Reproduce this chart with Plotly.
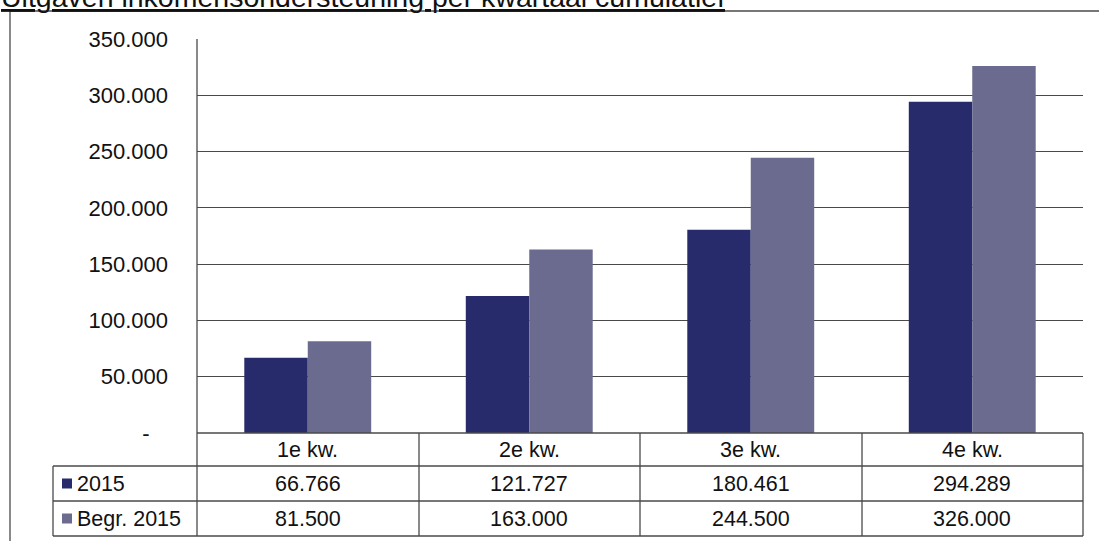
import plotly.graph_objects as go

categories = ["1e kw.", "2e kw.", "3e kw.", "4e kw."]
series_names = ["2015", "Begr. 2015"]
values_2015 = [66766, 121727, 180461, 294289]
values_begr = [81500, 163000, 244500, 326000]
tick_values = [0, 50000, 100000, 150000, 200000, 250000, 300000, 350000]
tick_labels = ["-\u00a0\u00a0\u00a0", "50.000", "100.000", "150.000", "200.000", "250.000", "300.000", "350.000"]
title_text = "Uitgaven inkomensondersteuning per kwartaal cumulatief"

COL_DARK = "#272b6b"
COL_GREY = "#6b6b8f"
LINE = "#4a4a4a"
FONT = "Arial, Liberation Sans, sans-serif"

W, H = 1099, 541
L, R, T, B = 197, 1083, 39, 433


def px(x):
    return (x - L) / (R - L)


def py(y):
    return (B - y) / (B - T)


def fmt(v):
    return f"{v:,}".replace(",", ".")


fig = go.Figure()
fig.add_trace(go.Bar(x=categories, y=values_2015, name=series_names[0],
                     marker=dict(color=COL_DARK, line=dict(width=0))))
fig.add_trace(go.Bar(x=categories, y=values_begr, name=series_names[1],
                     marker=dict(color=COL_GREY, line=dict(width=0))))

shapes = []


def line(x0, y0, x1, y1, w=1.3):
    shapes.append(dict(type="line", xref="paper", yref="paper",
                       x0=px(x0), y0=py(y0), x1=px(x1), y1=py(y1),
                       line=dict(color=LINE, width=w)))


# outer frame
line(10, 11, 1099, 11)
line(10, 11, 10, 541)
# plot left border
line(197, 39, 197, 433)
# table
row_y = [433, 466, 501, 536]
line(197, 433, 1083, 433)
for yy in row_y[1:]:
    line(53, yy, 1083, yy)
col_x = [197, 419, 640, 862, 1083]
for xx in col_x:
    line(xx, 433, xx, 536)
line(53, 466, 53, 536)

annotations = []
row_centers = [(row_y[i] + row_y[i + 1]) / 2 for i in range(3)]
for i, c in enumerate(categories):
    annotations.append(dict(x=c, y=py(row_centers[0]), xref="x", yref="paper",
                            text=c, showarrow=False, xanchor="center", yanchor="middle",
                            font=dict(size=21.5, color="#111", family=FONT)))
    annotations.append(dict(x=c, y=py(row_centers[1]), xref="x", yref="paper",
                            text=fmt(values_2015[i]), showarrow=False, xanchor="center", yanchor="middle",
                            font=dict(size=21.5, color="#111", family=FONT)))
    annotations.append(dict(x=c, y=py(row_centers[2]), xref="x", yref="paper",
                            text=fmt(values_begr[i]), showarrow=False, xanchor="center", yanchor="middle",
                            font=dict(size=21.5, color="#111", family=FONT)))

for name, col, rc in [(series_names[0], COL_DARK, row_centers[1]), (series_names[1], COL_GREY, row_centers[2])]:
    shapes.append(dict(type="rect", xref="paper", yref="paper",
                       x0=px(62), x1=px(72), y0=py(rc - 5), y1=py(rc + 5),
                       fillcolor=col, line=dict(width=0)))
    annotations.append(dict(x=px(75), y=py(rc), xref="paper", yref="paper",
                            text=name, showarrow=False, xanchor="left", yanchor="middle",
                            font=dict(size=21.5, color="#111", family=FONT)))

annotations.append(dict(x=px(-1), y=py(-3), xref="paper", yref="paper",
                        text=f"<u>{title_text}</u>", showarrow=False,
                        xanchor="left", yanchor="middle",
                        font=dict(size=28.5, color="#111", family=FONT)))

fig.update_layout(
    width=W, height=H,
    margin=dict(l=L, r=W - R, t=T, b=H - B, pad=0),
    paper_bgcolor="white", plot_bgcolor="white",
    barmode="group", bargap=0.427, bargroupgap=0,
    showlegend=False,
    shapes=shapes, annotations=annotations,
    font=dict(family=FONT, size=22, color="#111"),
)
fig.update_xaxes(showticklabels=False, showgrid=False, showline=False, zeroline=False)
fig.update_yaxes(range=[0, 350000], tickvals=tick_values, ticktext=tick_labels,
                 showgrid=True, gridcolor=LINE, gridwidth=1.3, zeroline=False,
                 showline=False, ticks="", ticklabelstandoff=28,
                 tickfont=dict(size=22, color="#111", family=FONT))

fig.write_html("out.html", config={"displayModeBar": False},
               post_script="document.body.style.margin='0';document.body.style.overflow='hidden';")
